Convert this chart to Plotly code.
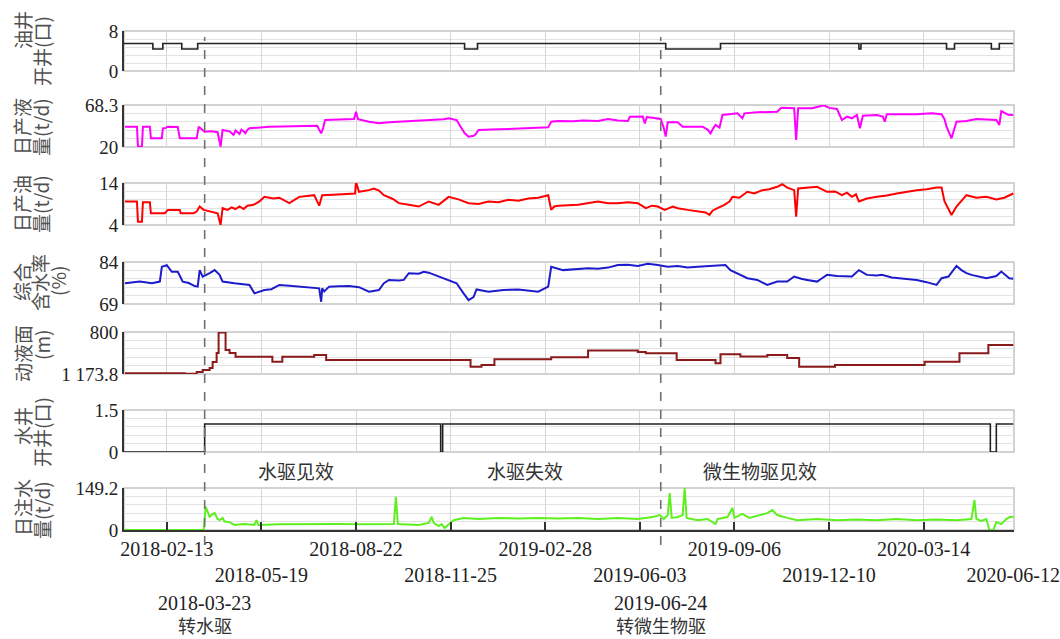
import pandas as pd
import plotly.graph_objects as go

# ---------------- data ----------------
START = pd.Timestamp("2018-01-01")   # day 0 of the record
END = "2020-06-12"

tick_dates = ["2018-02-13", "2018-05-19", "2018-08-22", "2018-11-25", "2019-02-28",
              "2019-06-03", "2019-09-06", "2019-12-10", "2020-03-14", "2020-06-12"]

event_dates = ["2018-03-23", "2019-06-24"]
event_names = ["转水驱", "转微生物驱"]

stage_dates = ["2018-06-23", "2019-02-08", "2019-10-02"]
stage_names = ["水驱见效", "水驱失效", "微生物驱见效"]

# oil wells open (count), step series; day = days since START
oil_wells_day = [0, 29, 39, 58, 74, 342, 355, 544, 599, 738, 740, 826, 834, 871, 879, 893]
oil_wells = [5.5, 4.4, 5.5, 4.4, 5.5, 4.4, 5.5, 4.4, 5.5, 4.4, 5.5, 4.4, 5.5, 4.4, 5.5, 5.5]

# daily liquid production (t/d)
liquid_day = [1, 13, 14, 18, 19, 26, 27, 38, 39, 42, 44, 54, 56, 73, 75, 79, 81, 88, 94, 97, 99,
              106, 110, 112, 116, 118, 122, 124, 126, 146, 161, 176, 194, 196, 198, 200, 202,
              216, 231, 233, 235, 246, 256, 266, 276, 291, 306, 321, 326, 334, 338, 342, 346,
              351, 353, 356, 376, 396, 411, 426, 429, 436, 451, 461, 476, 486, 496, 506, 508,
              521, 523, 525, 531, 539, 542, 544, 546, 556, 561, 581, 586, 589, 592, 594, 598,
              601, 616, 621, 623, 636, 656, 660, 673, 675, 677, 691, 703, 708, 716, 721, 726,
              731, 736, 739, 742, 756, 762, 764, 766, 796, 811, 821, 824, 826, 831, 834, 836,
              846, 856, 876, 879, 881, 888, 893]
liquid = [43.4, 43.4, 20.4, 20.4, 43.4, 43.4, 30, 30, 41.5, 42, 43.4, 43, 30, 30, 43.4, 40, 37.6,
          38, 37, 20.5, 39.5, 38, 34, 39, 35, 40, 36, 40, 41.5, 43.4, 44, 44.5, 44.5, 40, 35.7,
          42, 51, 51.5, 52.2, 60.6, 52, 49.1, 47.2, 48.5, 49.1, 50, 51, 52, 53, 51, 43.4, 36,
          31.9, 33, 34.6, 39.5, 40.3, 41.5, 42, 42.6, 49, 50, 49.5, 50.5, 49.9, 52.2, 50.5, 49.9,
          54.9, 55, 47.2, 54.5, 53.7, 52.2, 42, 31.9, 48.4, 48.4, 43.4, 43.4, 40, 35.7, 42, 45.3,
          42.2, 56.8, 58.7, 53, 58.7, 59.9, 60.6, 65.2, 64.5, 28, 64.5, 64.5, 68, 65, 63.7, 51,
          54.9, 53, 56.8, 41.5, 56, 56.8, 55, 49.1, 57.6, 57.6, 58.7, 57.6, 52, 43.4, 30, 40,
          49.1, 50, 52.2, 51, 45.3, 61.4, 57, 56.8]

# daily oil production (t/d)
oil_day = [1, 13, 14, 18, 19, 26, 27, 41, 44, 56, 57, 70, 73, 76, 80, 86, 94, 97, 99, 104, 108,
           112, 116, 120, 124, 130, 136, 141, 150, 156, 166, 176, 186, 191, 196, 199, 210, 226,
           232, 233, 236, 246, 251, 256, 261, 270, 276, 286, 296, 306, 316, 326, 336, 346, 356,
           366, 376, 386, 396, 406, 416, 426, 429, 432, 436, 456, 466, 476, 486, 496, 506, 516,
           524, 530, 536, 543, 551, 556, 566, 576, 584, 588, 591, 596, 603, 608, 611, 618, 626,
           633, 641, 648, 656, 661, 666, 673, 675, 677, 686, 696, 706, 714, 721, 726, 731, 735,
           738, 746, 756, 766, 776, 786, 796, 806, 816, 821, 824, 831, 836, 846, 856, 866, 876,
           884, 893]
oil = [9.6, 9.6, 4.8, 4.8, 9.4, 9.4, 6.8, 6.8, 7.6, 7.6, 6.8, 6.8, 7.2, 8.4, 7.6, 7.2, 6.8, 4.0,
       8.0, 7.6, 8.2, 7.8, 8.4, 7.8, 8.6, 8.8, 9.6, 10.7, 10.3, 10.5, 9.2, 10.7, 10.9, 11.1, 8.6,
       11.1, 11.2, 11.4, 11.5, 14.2, 11.9, 12.3, 12.7, 12.2, 11.1, 10.2, 9.2, 8.8, 8.4, 9.6, 8.8,
       10.7, 10.1, 9.2, 9.0, 9.6, 9.4, 10.0, 9.8, 10.3, 10.5, 11.1, 7.6, 8.4, 8.6, 8.8, 9.2, 9.6,
       9.2, 9.2, 9.4, 9.2, 8.0, 8.6, 8.4, 7.6, 8.4, 8.0, 7.6, 7.2, 7.0, 6.4, 7.4, 8.0, 8.8, 9.6,
       10.7, 10.5, 11.9, 11.5, 12.3, 12.5, 13.1, 13.7, 12.9, 12.3, 6.0, 12.7, 12.9, 13.1, 11.9,
       12.0, 11.1, 11.7, 10.7, 11.3, 9.6, 10.3, 10.7, 11.0, 11.5, 11.9, 12.3, 12.5, 12.9, 12.9,
       9.6, 6.4, 8.4, 11.1, 10.5, 10.7, 10.1, 10.5, 11.5]

# composite water cut (%)
wcut_day = [1, 16, 28, 36, 38, 43, 48, 54, 59, 65, 71, 74, 76, 79, 86, 91, 96, 99, 111, 121, 126,
            131, 141, 148, 156, 166, 176, 186, 196, 198, 199, 201, 206, 216, 226, 236, 246, 256,
            261, 266, 276, 281, 286, 296, 301, 306, 316, 326, 334, 341, 346, 351, 354, 366, 376,
            381, 396, 406, 416, 426, 429, 441, 456, 466, 476, 486, 496, 506, 516, 526, 536, 546,
            556, 566, 576, 586, 596, 604, 609, 616, 626, 636, 646, 656, 666, 673, 680, 686, 696,
            701, 706, 716, 726, 731, 738, 746, 756, 761, 771, 781, 796, 806, 816, 821, 828, 836,
            841, 846, 851, 866, 876, 881, 889, 893]
wcut = [76.4, 77.0, 76.4, 77.0, 82.3, 82.9, 80.5, 80.5, 77.0, 76.5, 75.4, 75.2, 81.1, 78.8, 80.0,
        81.1, 79.4, 77.0, 76.4, 76.0, 75.8, 72.8, 74.0, 74.3, 75.8, 75.5, 75.2, 75.0, 74.6, 69.8,
        74.6, 73.5, 75.2, 75.3, 75.4, 75.0, 73.4, 74.0, 76.4, 77.6, 77.4, 77.6, 80.0, 79.8, 80.5,
        80.2, 78.8, 77.6, 76.4, 72.8, 70.4, 71.5, 74.2, 73.4, 73.8, 74.0, 74.2, 73.8, 73.4, 75.2,
        82.3, 81.1, 81.4, 81.8, 81.6, 82.0, 82.9, 83.0, 82.6, 83.4, 82.9, 82.3, 82.6, 82.0, 82.3,
        82.5, 82.9, 82.9, 81.1, 80.0, 78.2, 77.6, 75.8, 77.0, 77.0, 78.8, 78.0, 77.6, 77.0, 78.2,
        79.4, 79.0, 78.8, 78.8, 81.1, 79.4, 79.2, 79.4, 78.5, 78.2, 77.6, 76.8, 75.8, 78.2, 78.8,
        82.6, 81.1, 80.0, 79.4, 78.2, 79.0, 80.6, 78.2, 78.0]

# dynamic fluid level (m), step series
level_day = [1, 61, 73, 79, 86, 89, 93, 95, 102, 106, 112, 149, 159, 191, 203, 348, 359, 372, 429,
             466, 516, 524, 555, 594, 599, 619, 646, 666, 678, 714, 804, 839, 868, 893]
level = [1167, 1172, 1156, 1138, 1120, 1067, 987, 805, 960, 987, 1020, 1064, 1020, 1005, 1049,
         1109, 1094, 1043, 1025, 965, 978, 990, 1049, 1079, 998, 1019, 1005, 1031, 1109, 1094,
         1064, 990, 916, 916]

# water wells open (count), step series
water_wells_day = [0, 81, 318, 320, 870, 876, 893]
water_wells = [0, 1, 0, 1, 0, 1, 1]

# daily water injection (t/d)
inject_day = [0, 80, 82, 84, 86, 89, 91, 94, 96, 99, 101, 106, 111, 121, 131, 133, 135, 156, 176,
              196, 216, 236, 256, 271, 273, 275, 296, 306, 309, 311, 316, 319, 322, 326, 331,
              341, 356, 376, 396, 416, 436, 456, 476, 496, 516, 531, 538, 542, 546, 548, 550,
              556, 561, 563, 565, 576, 586, 594, 596, 606, 611, 613, 621, 628, 636, 646, 651,
              656, 666, 676, 696, 716, 736, 756, 776, 796, 816, 836, 851, 854, 856, 861, 866,
              869, 873, 876, 881, 886, 890, 893]
inject = [0, 0, 83, 64, 47, 57, 60, 39, 35, 43, 30, 28, 18, 21, 18, 35, 18, 20, 21, 20, 21, 20,
          21, 21, 118, 21, 18, 25, 47, 25, 14, 21, 7, 18, 35, 43, 39, 43, 41, 43, 41, 43, 39,
          43, 39, 46, 53, 39, 53, 131, 43, 46, 53, 149, 43, 35, 39, 21, 39, 46, 78, 43, 57, 43,
          50, 60, 71, 53, 43, 35, 39, 35, 37, 35, 39, 35, 37, 35, 39, 106, 39, 32, 39, 0, 0, 28,
          21, 39, 47, 46]


def to_dates(days):
    return START + pd.to_timedelta(days, unit="D")


# ---------------- layout helpers ----------------
W, H = 1060, 639
X_LEFT, X_RIGHT = 124, 1014
SERIF = "'Liberation Serif', 'Times New Roman', serif"
CJK = "'Noto Sans CJK SC', sans-serif"


def fx(px):
    return px / W


def fy(py):
    return 1 - py / H


panels = [
    dict(day=oil_wells_day, val=oil_wells, color="#222222", width=1.6, shape="hv",
         top=31, bottom=71, rng=[0, 8], ticks=[0, 8], text=["0", "8"],
         title=[("油井", 22, 30), ("开井(口)", 41, 51)]),
    dict(day=liquid_day, val=liquid, color="#ff00ff", width=2, shape="linear",
         top=105, bottom=147, rng=[20, 68.3], ticks=[20, 68.3], text=["20", "68.3"],
         title=[("日产液", 22, 127), ("量(t/d)", 41, 127)]),
    dict(day=oil_day, val=oil, color="#ff0000", width=2, shape="linear",
         top=183, bottom=225, rng=[4, 14], ticks=[4, 14], text=["4", "14"],
         title=[("日产油", 22, 204), ("量(t/d)", 41, 204)]),
    dict(day=wcut_day, val=wcut, color="#1c1ccc", width=2, shape="linear",
         top=262, bottom=304, rng=[69, 84], ticks=[69, 84], text=["69", "84"],
         title=[("综合", 22, 282), ("含水率", 40, 283), ("(%)", 57, 281)]),
    dict(day=level_day, val=level, color="#8b1a1a", width=2, shape="hv",
         top=332, bottom=374, rng=[1173.8, 800], ticks=[800, 1173.8], text=["800", "1 173.8"],
         title=[("动液面", 22, 354), ("(m)", 41, 345)]),
    dict(day=water_wells_day, val=water_wells, color="#222222", width=1.6, shape="hv",
         top=410, bottom=452, rng=[0, 1.5], ticks=[0, 1.5], text=["0", "1.5"],
         title=[("水井", 22, 426), ("开井(口)", 41, 432)]),
    dict(day=inject_day, val=inject, color="#5ef01e", width=2, shape="linear",
         top=488, bottom=530, rng=[0, 149.2], ticks=[0, 149.2], text=["0", "149.2"],
         title=[("日注水", 22, 508), ("量(t/d)", 41, 510)]),
]

fig = go.Figure()
layout = dict(
    width=W, height=H, margin=dict(l=0, r=0, t=0, b=0, autoexpand=False),
    paper_bgcolor="white", plot_bgcolor="white", showlegend=False,
    font=dict(family=SERIF, size=19, color="#222222"),
)
shapes, annotations = [], []
x_range = ["2018-01-01", "2020-06-12 18:00"]
n = len(panels)

for i, p in enumerate(panels, start=1):
    sfx = "" if i == 1 else str(i)
    last = i == n
    fig.add_trace(go.Scatter(
        x=to_dates(p["day"]), y=p["val"], mode="lines",
        line=dict(color=p["color"], width=p["width"], shape=p["shape"]),
        xaxis="x" + sfx, yaxis="y" + sfx, hoverinfo="skip"))

    xa = dict(
        domain=[fx(X_LEFT), fx(X_RIGHT)], anchor="y" + sfx, range=x_range, type="date",
        tickmode="array", tickvals=tick_dates, showgrid=True, gridcolor="#d6d6d6",
        gridwidth=1, zeroline=False, showline=False, ticks="", showticklabels=False,
        automargin=False,
    )
    if last:
        xa.update(
            showline=True, linecolor="#333333", linewidth=2,
            ticks="inside", ticklen=8, tickwidth=1.5, tickcolor="#333333",
            showticklabels=True, tickangle=0,
            ticktext=[d if k % 2 == 0 else "<br>" + d for k, d in enumerate(tick_dates)],
            tickfont=dict(family=SERIF, size=20, color="#222222"),
        )
    layout["xaxis" + sfx] = xa

    span = abs(p["rng"][1] - p["rng"][0])
    lo = min(p["rng"])
    layout["yaxis" + sfx] = dict(
        domain=[fy(p["bottom"]), fy(p["top"])], anchor="x" + sfx, range=p["rng"],
        tickmode="array", tickvals=p["ticks"], ticktext=p["text"],
        showgrid=False, zeroline=False, automargin=False,
        showline=True, linecolor="#333333", linewidth=2,
        ticks="inside", ticklen=8, tickwidth=2, tickcolor="#333333",
        tickfont=dict(family=SERIF, size=19, color="#222222"),
        minor=dict(tickmode="linear", tick0=lo, dtick=span / 5, showgrid=True,
                   gridcolor="#e2e2e2", gridwidth=1, ticks=""),
    )

    # light frame on top/right of each panel
    shapes.append(dict(type="rect", xref="x" + sfx + " domain", yref="y" + sfx + " domain",
                       x0=0, x1=1, y0=0, y1=1, layer="below",
                       line=dict(color="#c4c4c4", width=1.5)))

    for txt, cx, cy in p["title"]:
        annotations.append(dict(text=txt, x=fx(cx), y=fy(cy), xref="paper", yref="paper",
                                textangle=-90, showarrow=False, xanchor="center",
                                yanchor="middle",
                                font=dict(family=CJK, size=19, color="#505050")))

# event markers: dashed verticals with date and name beneath the axis
for d, name in zip(event_dates, event_names):
    shapes.append(dict(type="line", xref="x7", yref="paper", x0=d, x1=d,
                       y0=fy(545), y1=fy(37),
                       line=dict(color="#707070", width=1.6, dash="dash")))
    annotations.append(dict(text=d, x=d, y=fy(603), xref="x7", yref="paper",
                            showarrow=False, xanchor="center", yanchor="middle",
                            font=dict(family=SERIF, size=20, color="#222222")))
    annotations.append(dict(text=name, x=d, y=fy(625), xref="x7", yref="paper",
                            showarrow=False, xanchor="center", yanchor="middle",
                            borderpad=0,
                            font=dict(family=CJK, size=18, color="#333333")))

# stage labels between the water-well and injection panels
for d, name in zip(stage_dates, stage_names):
    annotations.append(dict(text=name, x=d, y=fy(470), xref="x7", yref="paper",
                            showarrow=False, xanchor="center", yanchor="middle",
                            font=dict(family=CJK, size=19, color="#333333")))

layout["shapes"] = shapes
layout["annotations"] = annotations
fig.update_layout(**layout)
fig.write_html("out.html")
